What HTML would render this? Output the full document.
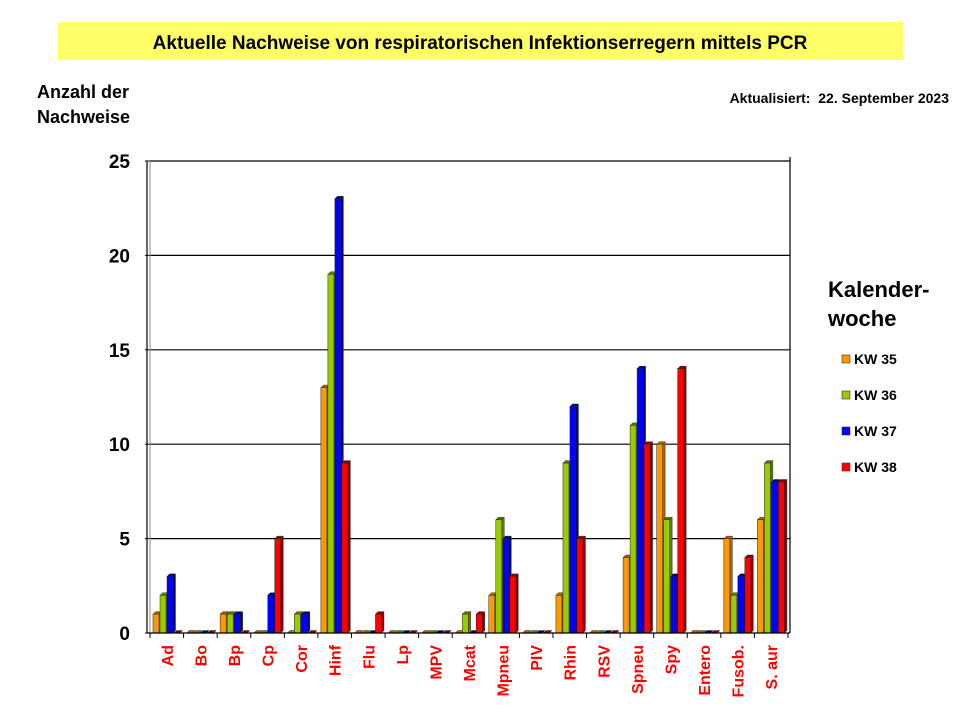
<!DOCTYPE html>
<html><head><meta charset="utf-8"><style>
body{margin:0;width:960px;height:720px;background:#fff;font-family:"Liberation Sans",sans-serif;overflow:hidden}
</style></head><body>
<svg width="960" height="720" xmlns="http://www.w3.org/2000/svg" font-family="Liberation Sans, sans-serif" id="chart">
<rect x="58" y="22" width="845" height="38" fill="#ffff66"/>
<text x="480" y="49" text-anchor="middle" font-size="19" font-weight="bold">Aktuelle Nachweise von respiratorischen Infektionserregern mittels PCR</text>
<text x="37" y="98" font-size="18" font-weight="bold">Anzahl der</text>
<text x="37" y="123" font-size="18" font-weight="bold">Nachweise</text>
<text x="949" y="103" text-anchor="end" font-size="14" font-weight="bold" xml:space="preserve" style="white-space:pre">Aktualisiert:  22. September 2023</text>
<text x="828" y="297" font-size="22" font-weight="bold">Kalender-</text>
<text x="828" y="326" font-size="22" font-weight="bold">woche</text>
<g id="grid"></g><g id="bars"></g><g id="axes"></g><g id="legend"></g>
</svg>
<script>
const categories=["Ad","Bo","Bp","Cp","Cor","Hinf","Flu","Lp","MPV","Mcat","Mpneu","PIV","Rhin","RSV","Spneu","Spy","Entero","Fusob.","S. aur"];
const kw35=[1,0,1,0,0,13,0,0,0,0,2,0,2,0,4,10,0,5,6];
const kw36=[2,0,1,0,1,19,0,0,0,1,6,0,9,0,11,6,0,2,9];
const kw37=[3,0,1,2,1,23,0,0,0,0,5,0,12,0,14,3,0,3,8];
const kw38=[0,0,0,5,0,9,1,0,0,1,3,0,5,0,10,14,0,4,8];
const seriesNames=["KW 35","KW 36","KW 37","KW 38"];
const yTicks=[0,5,10,15,20,25];
const NS="http://www.w3.org/2000/svg";
const colors=["#ff9900","#99cc00","#0000ff","#ff0000"];
const dark=["#a86400","#5c7a00","#00007a","#8a0000"];
const X0=150,X1=788,Y0=633,Y1=161;
const cw=(X1-X0)/categories.length;
const y=v=>Y0-(v/25)*(Y0-Y1);
const x=i=>X0+i*cw;
function mk(t,a,p){const e=document.createElementNS(NS,t);for(const k in a)e.setAttribute(k,a[k]);p.appendChild(e);return e;}
const grid=document.getElementById('grid'),bars=document.getElementById('bars'),axes=document.getElementById('axes'),legend=document.getElementById('legend');
yTicks.forEach(t=>{
 if(t>0){const l=mk('line',{x1:X0,x2:X1+2,y1:y(t),y2:y(t),stroke:'#000','stroke-width':1.2},grid);
 
 }
 const tx=mk('text',{x:130,y:y(t)+7,'text-anchor':'end','font-size':19,'font-weight':'bold'},axes);tx.textContent=t;
 
 
 mk('line',{x1:X0-5,x2:X0,y1:y(t),y2:y(t),stroke:'#000'},axes);
});
mk('line',{x1:X1+2,x2:X1+2,y1:Y1-4,y2:Y0,stroke:'#000','stroke-width':1.2},grid);
mk('line',{x1:X0-3,x2:X0-3,y1:Y1,y2:Y0,stroke:'#000','stroke-width':1.2},axes);
mk('line',{x1:X0,x2:X0,y1:Y1,y2:Y0,stroke:'#888','stroke-width':1},axes);
mk('line',{x1:X0-3,x2:X1+2,y1:Y0,y2:Y0,stroke:'#000','stroke-width':1.2},axes);
const all=[kw35,kw36,kw37,kw38];
const bw=6,dep=2.5;
categories.forEach((c,i)=>{
 all.forEach((s,k)=>{
  const bx=x(i)+3+k*7,top=y(s[i]);
  const g=mk('g',{},bars);
  
  
  mk('polygon',{points:`${bx+bw},${top} ${bx+bw+dep},${top-dep} ${bx+bw+dep},${Y0-dep} ${bx+bw},${Y0}`,fill:dark[k],stroke:'#222','stroke-width':0.4},g);
  mk('polygon',{points:`${bx},${top} ${bx+dep},${top-dep} ${bx+bw+dep},${top-dep} ${bx+bw},${top}`,fill:dark[k],stroke:'#222','stroke-width':0.4},g);
  mk('rect',{x:bx,y:top,width:bw,height:Y0-top,fill:colors[k],stroke:'#222','stroke-width':0.5},g);
 });
 mk('line',{x1:x(i),x2:x(i),y1:Y0,y2:Y0+5,stroke:'#000'},axes);
 const t=mk('text',{transform:`translate(${x(i)+cw/2+6},645) rotate(-90)`,'text-anchor':'end','font-size':16,'font-weight':'bold',fill:'#ff0000'},axes);
 t.textContent=c;
 
 
});
mk('line',{x1:X1,x2:X1,y1:Y0,y2:Y0+5,stroke:'#000'},axes);
seriesNames.forEach((n,k)=>{
 const g=mk('g',{},legend);
 
 
 const ly=360+k*36;
 mk('rect',{x:842,y:ly-5,width:8,height:8,fill:colors[k],stroke:'#333','stroke-width':0.6},g);
 const t=mk('text',{x:854,y:ly+4,'font-size':14,'font-weight':'bold'},g);t.textContent=n;
});
</script>
</body></html>
